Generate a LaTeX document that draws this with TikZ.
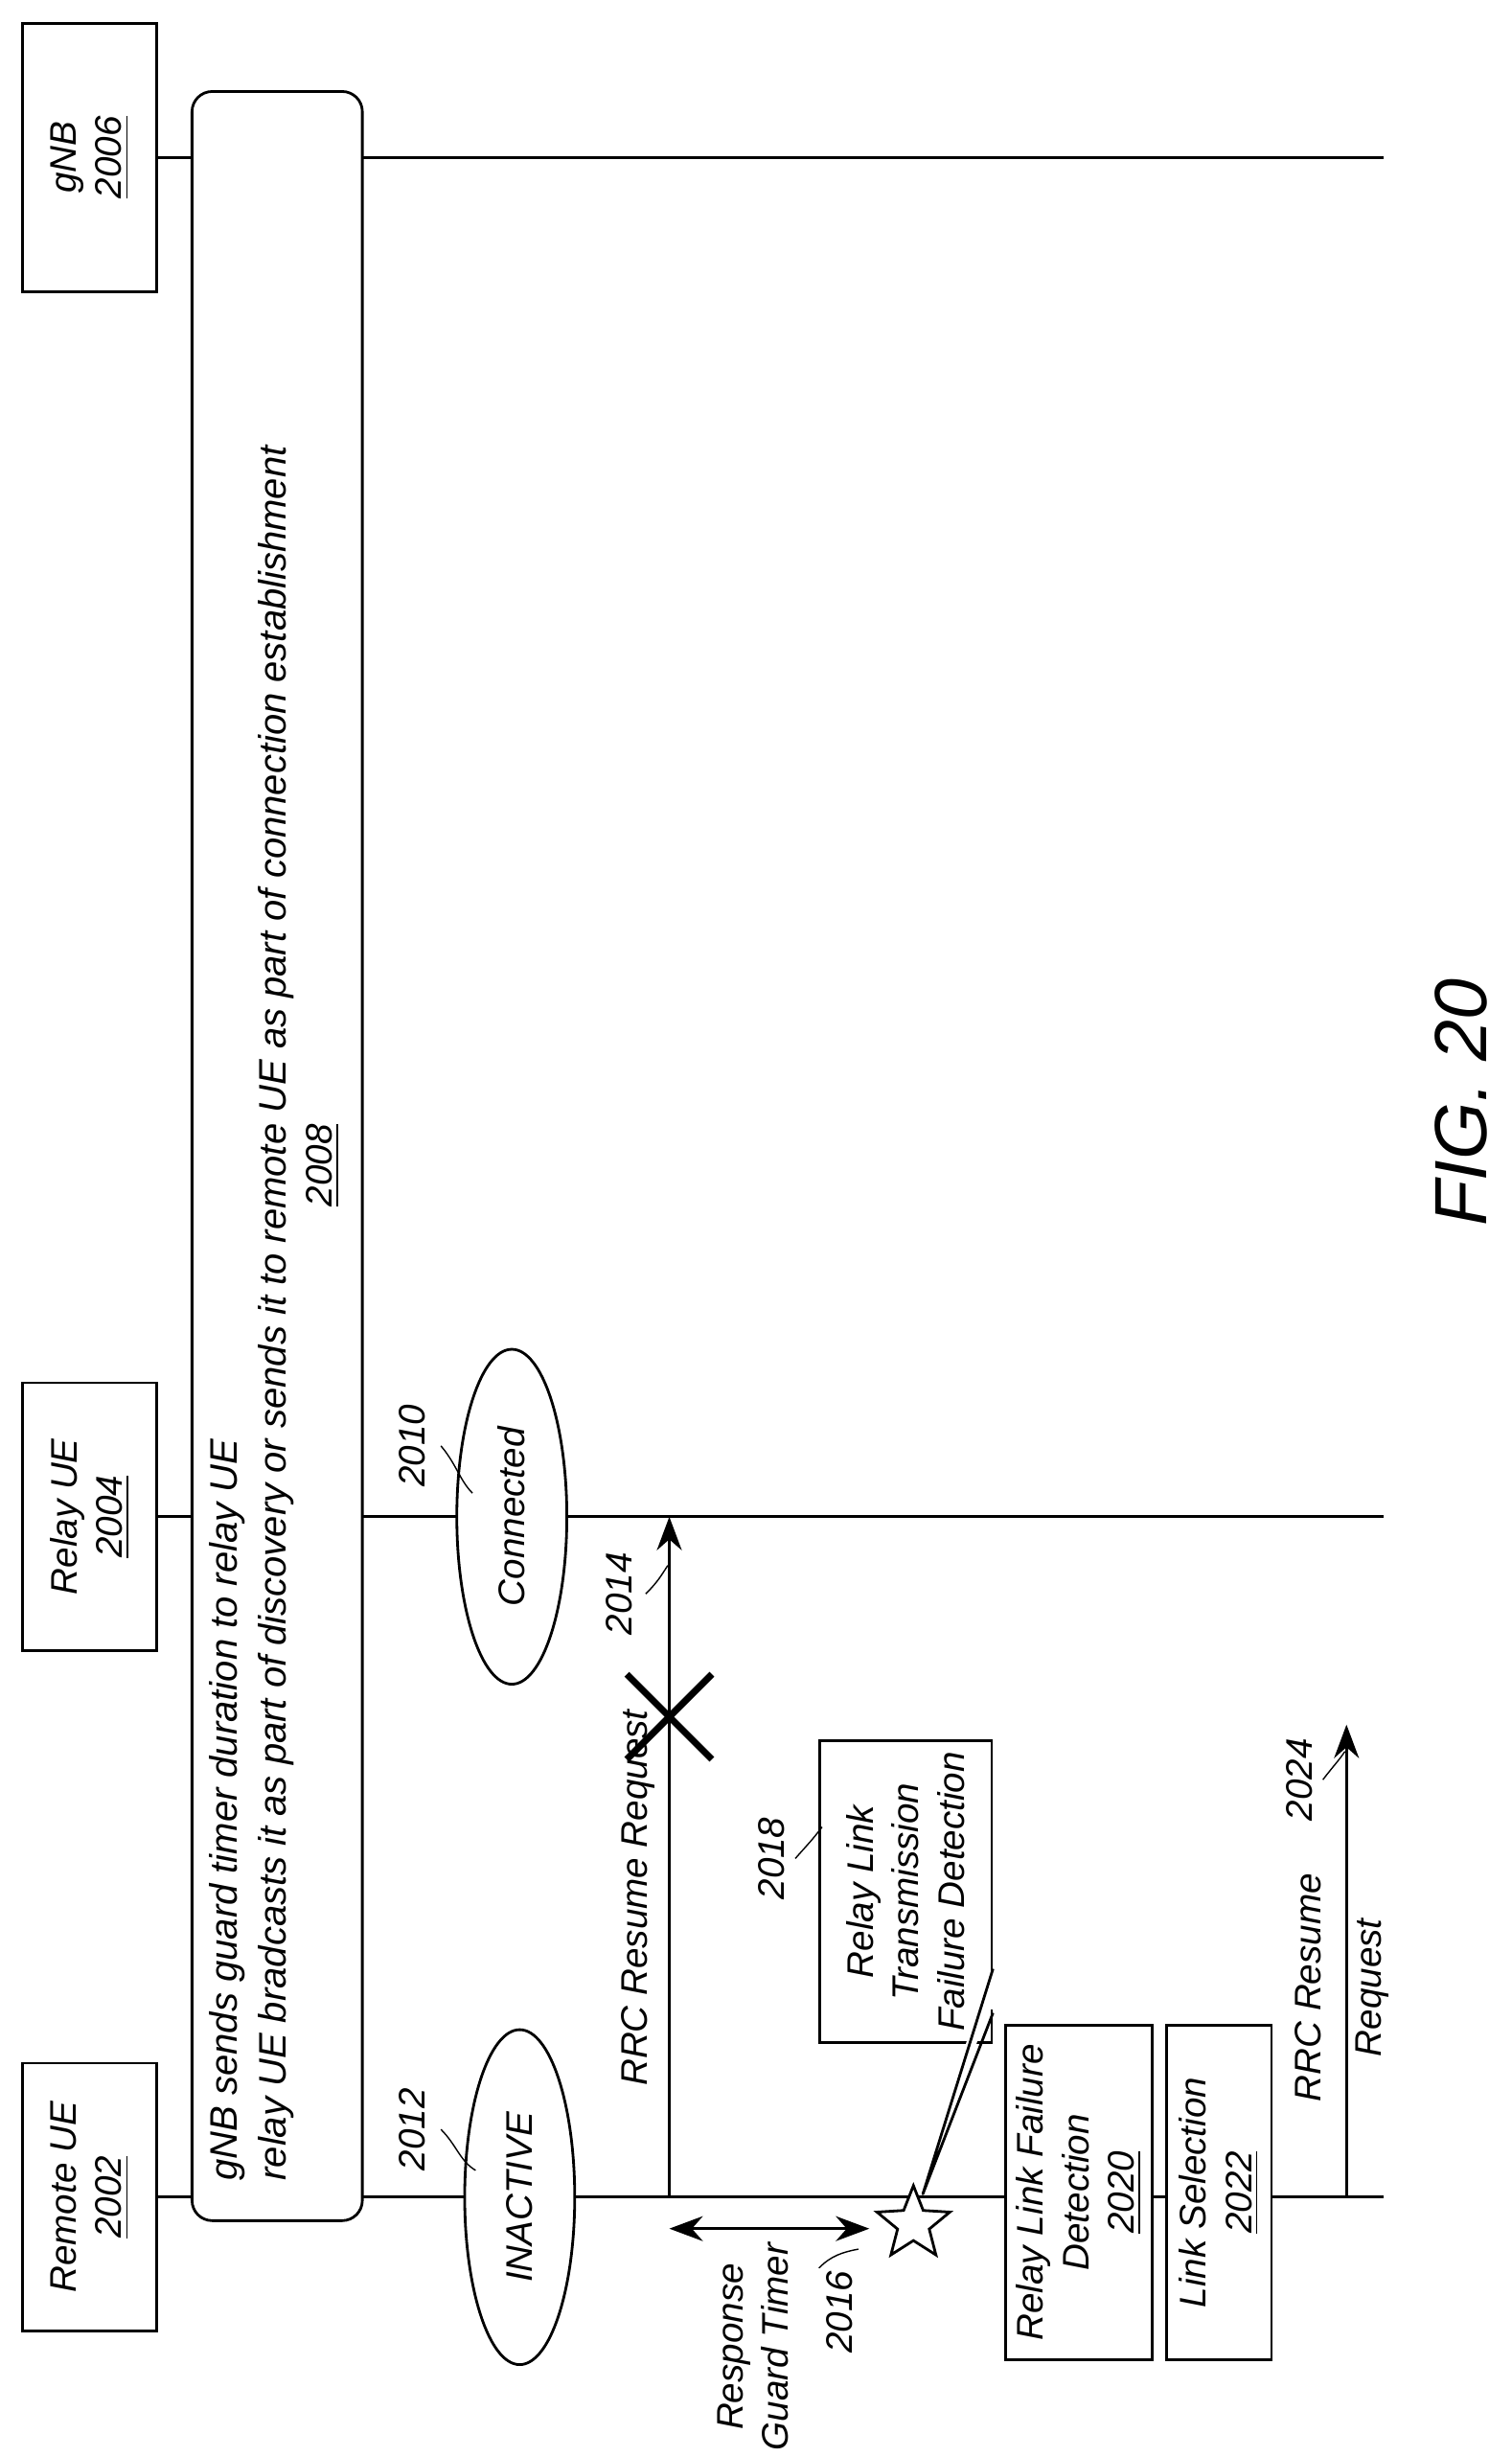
\documentclass[tikz,border=0pt]{standalone}
\usepackage{fontspec}
\setmainfont{Liberation Sans}
\usetikzlibrary{shapes.geometric,arrows.meta}
\tikzset{
  txt/.style = {font=\itshape\fontsize{11}{13.5}\selectfont, align=center, rotate=90},
  box/.style = {txt, draw, thick, fill=white, minimum width=28mm, minimum height=14mm},
  state/.style = {txt, draw, thick, ellipse, fill=white, minimum width=35mm, minimum height=11.5mm, inner sep=0pt},
  life/.style = {thick},
  msg/.style = {thick, -{Stealth[length=3.5mm,width=2.6mm]}},
  tag/.style = {font=\itshape\fontsize{11}{13}\selectfont, rotate=90},
}
\begin{document}
\begin{tikzpicture}[x=0.1646mm,y=-0.1646mm]
\useasboundingbox (0,0) rectangle (960,1560);

% entities
\node[box] (remote) at (57,1395) {Remote UE\\\underline{2002}};
\node[box] (relay) at (57,963) {Relay UE\\\underline{2004}};
\node[box] (gnb) at (57,100) {gNB\\\underline{2006}};

\draw[life] (remote.south) -- ++(778,0);
\draw[life] (relay.south) -- ++(778,0);
\draw[life] (gnb.south) -- ++(778,0);

% configuration step
\node[txt, draw, thick, fill=white, rounded corners=6pt, minimum width=222.5mm, minimum height=17.8mm] (cfg) at (176,734) {};
\node[txt, align=left, anchor=south west, font=\itshape\fontsize{11.4}{14.5}\selectfont] (cfgtext) at (194,1392)
  {gNB sends guard timer duration to relay UE\\
   relay UE bradcasts it as part of discovery or sends it to remote UE as part of connection establishment};
\node[tag] (l2008) at (205,740) {\underline{2008}};

% states
\node[state] (inactive) at (330,1395) {INACTIVE};
\node[state] (conn) at (325,963) {Connected};
\node[tag] (l2012) at (262,1352) {2012};
\node[tag] (l2010) at (262,918) {2010};
\draw (280,1352) .. controls (290,1362) and (292,1372) .. (302,1378);
\draw (280,918) .. controls (290,930) and (292,940) .. (300,948);

% failed resume request
\coordinate (r1) at (425,1395);
\draw[msg] (r1) -- (r1 |- conn);
\node[txt] (rrc1) at (405,1205) {RRC Resume Request};
\draw[line width=2pt] (398,1063) -- (452,1117);
\draw[line width=2pt] (398,1117) -- (452,1063);
\node[tag] (l2014) at (393,1012) {2014};
\draw (410,1012) .. controls (418,1004) and (420,1000) .. (424,994);

% guard timer
\coordinate (g1) at (425,1415);
\coordinate (g2) at (552,1415);
\draw[thick, {Stealth[length=3.5mm,width=2.6mm]}-{Stealth[length=3.5mm,width=2.6mm]}] (g1) -- (g2);
\node[txt] (guard) at (478,1490) {Response\\Guard Timer};
\node[tag] (l2016) at (533,1468) {2016};
\draw (520,1440) .. controls (528,1432) and (535,1430) .. (545,1428);

% failure detection
\node[star, star points=5, star point ratio=2.3, draw, thick, fill=white, minimum size=8mm, inner sep=0pt] (star) at (580,1412) {};
\node[txt, draw, thick, fill=white, minimum width=29mm, minimum height=18mm] (tfd) at (575,1201)
  {Relay Link\\Transmission\\Failure Detection};
\fill[white] (627,1250) -- (586,1393) -- (627,1278) -- cycle;
\draw[white, line width=2.5pt] (tfd.south east |- 0,1252) -- (tfd.south east |- 0,1276);
\draw[thick, line join=round] (tfd.south east |- 0,1250) -- (586,1393) -- (tfd.south east |- 0,1278);
\node[tag] (l2018) at (490,1180) {2018};
\draw (505,1180) .. controls (512,1172) and (516,1168) .. (522,1160);

\node[txt, draw, thick, fill=white, minimum width=35mm, minimum height=14.5mm] (rlfd) at (685,1392)
  {Relay Link Failure\\Detection\\\underline{2020}};
\node[txt, draw, thick, fill=white, minimum width=35mm, minimum height=11mm] (lsel) at (774,1392)
  {Link Selection\\\underline{2022}};

% new resume request
\coordinate (r2) at (855,1395);
\draw[msg] (r2) -- (855,1095);
\node[txt, font=\itshape\fontsize{11}{18}\selectfont] (rrc2) at (852,1262) {RRC Resume\\Request};
\node[tag] (l2024) at (825,1130) {2024};
\draw (840,1130) .. controls (846,1122) and (850,1118) .. (854,1112);

\node[rotate=90, font=\itshape\fontsize{22}{26}\selectfont] (fig) at (928,700) {FIG. 20};
\end{tikzpicture}
\end{document}
